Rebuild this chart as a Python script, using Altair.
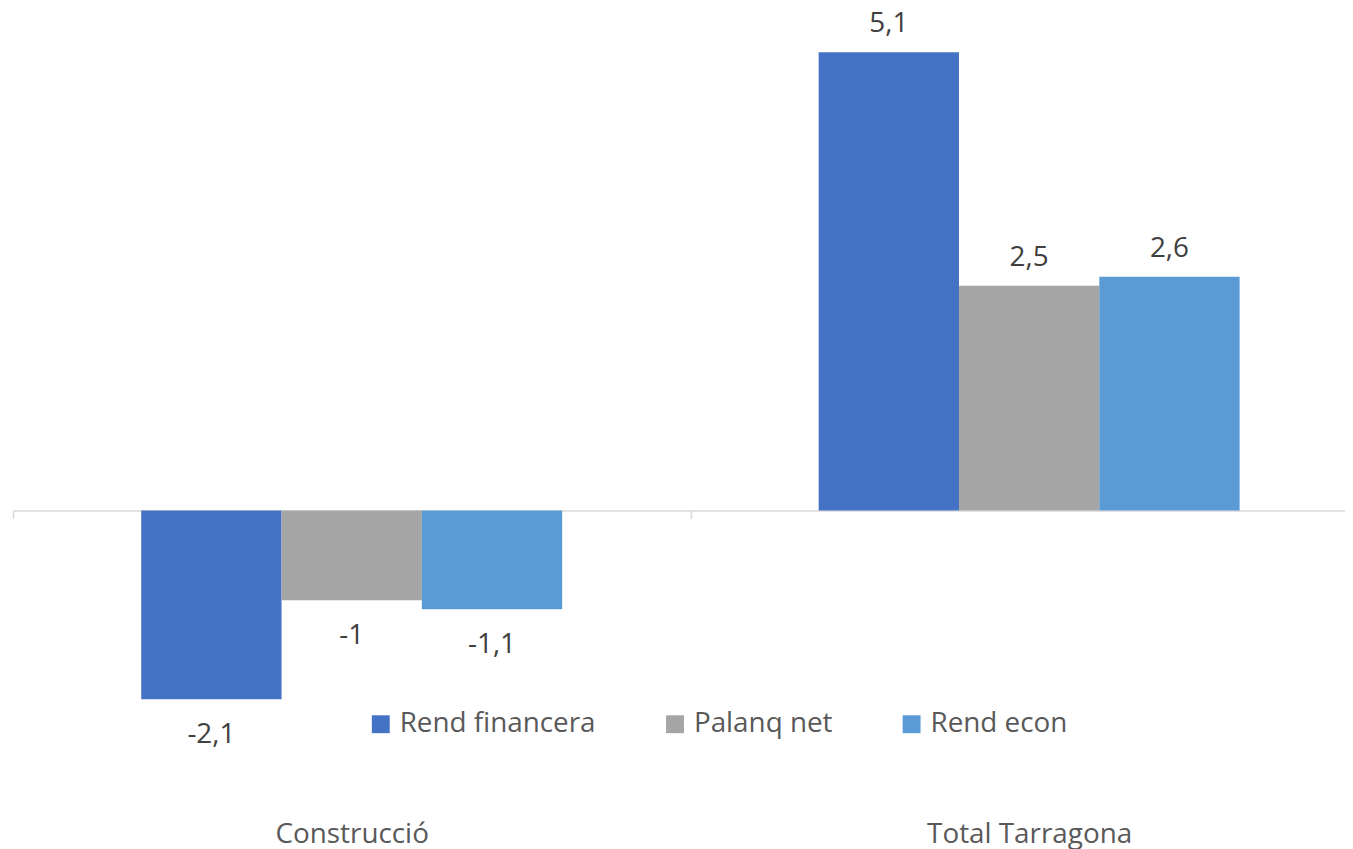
import altair as alt
import pandas as pd

categories = ["Construcció", "Total Tarragona"]
series = ["Rend financera", "Palanq net", "Rend econ"]
rend_financera = [-2.1, 5.1]
palanq_net = [-1.0, 2.5]
rend_econ = [-1.1, 2.6]
colors = ["#4472C4", "#A5A5A5", "#5B9BD5"]

rows = []
for s, vals in zip(series, [rend_financera, palanq_net, rend_econ]):
    for c, v in zip(categories, vals):
        rows.append({"cat": c, "series": s, "value": v,
                     "label": f"{v:g}".replace(".", ",")})
df = pd.DataFrame(rows)

H = 841
ZERO = 503
K = 90.4
ymax = ZERO / K
ymin = -(H - ZERO) / K

FONT = "Open Sans"
FS = 28

x_enc = alt.X("cat:N", sort=categories,
              scale=alt.Scale(range=[0, 1363], paddingInner=0, paddingOuter=0),
              axis=alt.Axis(title=None, labelAngle=0, grid=False,
                            domainColor="#D9D9D9", domainWidth=1.5,
                            tickColor="#D9D9D9", tickWidth=1.5, tickSize=8,
                            tickBand="extent", offset=-(H - ZERO),
                            labelPadding=318, labelBaseline="middle", labelLimit=0,
                            labelFont=FONT, labelFontSize=FS, labelColor="#595959"))
xo_enc = alt.XOffset("series:N", sort=series,
                     scale=alt.Scale(paddingOuter=0.914, paddingInner=0))
y_scale = alt.Scale(domain=[ymin, ymax], nice=False, zero=False)

base = alt.Chart(df)

bars = base.mark_bar().encode(
    x=x_enc,
    xOffset=xo_enc,
    y=alt.Y("value:Q", scale=y_scale, axis=None),
    color=alt.Color("series:N", sort=series,
                    scale=alt.Scale(domain=series, range=colors),
                    legend=alt.Legend(title=None, orient="none", direction="horizontal",
                                      legendX=356, legendY=704, padding=0,
                                      symbolType="square", symbolSize=324,
                                      symbolStrokeWidth=0, symbolOpacity=1,
                                      labelFont=FONT, labelFontSize=FS, labelLimit=0,
                                      labelColor="#595959", labelOffset=5,
                                      columnPadding=65)),
)

pos_labels = base.transform_filter("datum.value >= 0").mark_text(
    font=FONT, fontSize=FS, color="#404040", baseline="middle", dy=-28
).encode(x=alt.X("cat:N", sort=categories), xOffset=alt.XOffset("series:N", sort=series),
         y=alt.Y("value:Q"), text="label:N")

neg_labels = base.transform_filter("datum.value < 0").mark_text(
    font=FONT, fontSize=FS, color="#404040", baseline="middle", dy=36
).encode(x=alt.X("cat:N", sort=categories), xOffset=alt.XOffset("series:N", sort=series),
         y=alt.Y("value:Q"), text="label:N")

chart = alt.layer(bars, pos_labels, neg_labels).properties(
    width=1340, height=H, background="white",
    padding={"left": 5, "top": 0, "right": 0, "bottom": 0},
    autosize=alt.AutoSizeParams(type="none"),
).configure_view(strokeWidth=0, stroke=None)

chart.save("out.html", embed_options={"renderer": "svg", "actions": False})
